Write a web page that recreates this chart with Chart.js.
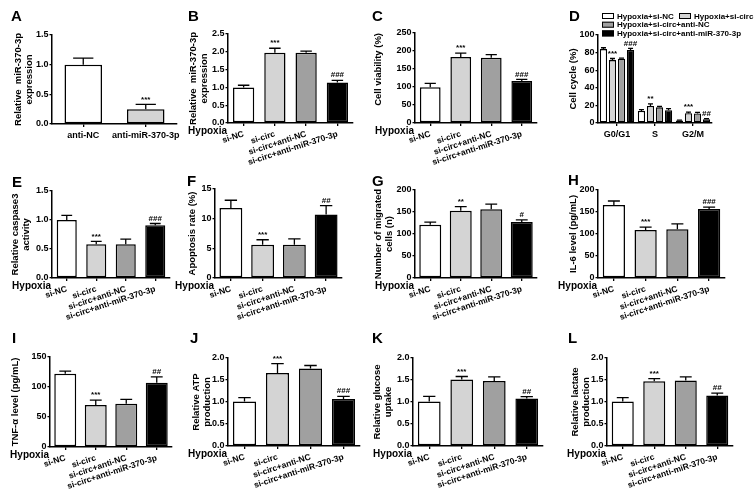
<!DOCTYPE html>
<html>
<head>
<meta charset="utf-8">
<script src="https://cdn.jsdelivr.net/npm/chart.js@4.4.1/dist/chart.umd.min.js"></script>
<style>
  body { margin: 0; background: #fff; }
  #fig { position: relative; width: 755px; height: 501px; overflow: hidden; }
  #fig canvas { position: absolute; }
  .tag { position: absolute; font: bold 15px Arial, "Liberation Sans", sans-serif; color: #000; line-height: 1; }
</style>
</head>
<body>
<div id="fig"></div>
<script>
// categories
const groups = ['si-NC', 'si-circ', 'si-circ+anti-NC', 'si-circ+anti-miR-370-3p'];
const groupsA = ['anti-NC', 'anti-miR-370-3p'];
const phases = ['G0/G1', 'S', 'G2/M'];
const cycleSeries = ['Hypoxia+si-NC', 'Hypoxia+si-circ', 'Hypoxia+si-circ+anti-NC', 'Hypoxia+si-circ+anti-miR-370-3p'];

// A - miR-370-3p
const miRA = [1.0, 0.25];
const miRAErr = [0.11, 0.08];
const miRAMarks = ['', '***'];
const ticksA = [0, 0.5, 1.0, 1.5];

// B - miR-370-3p
const miRB = [1.0, 1.97, 1.97, 1.14];
const miRBErr = [0.06, 0.13, 0.05, 0.06];
const miRBMarks = ['', '***', '', '###'];
const ticksB = [0, 0.5, 1.0, 1.5, 2.0, 2.5];

// C - cell viability
const viability = [99, 183, 181, 117];
const viabilityErr = [11, 11, 9, 4];
const viabilityMarks = ['', '***', '', '###'];
const ticksC = [0, 50, 100, 150, 200, 250];

// D - cell cycle
const cycleNC = [84, 13.6, 2.8];
const cycleNCErr = [1.5, 1.5, 0.5];
const cycleSi = [71.5, 19.3, 11];
const cycleSiErr = [1.8, 2.5, 1.3];
const cycleSiMarks = ['***', '**', '***'];
const cycleAntiNC = [73, 17.8, 10.8];
const cycleAntiNCErr = [0.8, 1, 1.2];
const cycleAntiMiR = [83, 14.5, 4.2];
const cycleAntiMiRErr = [1.8, 1.8, 0.8];
const cycleAntiMiRMarks = ['###', '', '##'];
const ticksD = [0, 20, 40, 60, 80, 100];

// E - caspase3
const caspase = [1.0, 0.58, 0.58, 0.91];
const caspaseErr = [0.08, 0.05, 0.09, 0.03];
const caspaseMarks = ['', '***', '', '###'];
const ticksE = [0, 0.5, 1.0, 1.5];

// F - apoptosis
const apoptosis = [11.8, 5.6, 5.6, 10.7];
const apoptosisErr = [1.3, 0.85, 1.0, 1.5];
const apoptosisMarks = ['', '***', '', '##'];
const ticksF = [0, 5, 10, 15];

// G - migration
const migrated = [121, 153, 156, 127];
const migratedErr = [6, 9, 12, 5];
const migratedMarks = ['', '**', '', '#'];
const ticksG = [0, 50, 100, 150, 200];

// H - IL-6
const il6 = [166, 109, 111, 157];
const il6Err = [9, 6.5, 12, 4];
const il6Marks = ['', '***', '', '###'];
const ticksH = [0, 50, 100, 150, 200];

// I - TNF-a
const tnf = [122, 70, 72, 107];
const tnfErr = [4.5, 8, 7.5, 10];
const tnfMarks = ['', '***', '', '##'];
const ticksI = [0, 50, 100, 150];

// J - ATP
const atp = [1.01, 1.66, 1.76, 1.07];
const atpErr = [0.09, 0.21, 0.07, 0.06];
const atpMarks = ['', '***', '', '###'];
const ticksJ = [0, 0.5, 1.0, 1.5, 2.0];

// K - glucose
const glucose = [1.01, 1.51, 1.48, 1.08];
const glucoseErr = [0.12, 0.07, 0.09, 0.04];
const glucoseMarks = ['', '***', '', '##'];
const ticksK = [0, 0.5, 1.0, 1.5, 2.0];

// L - lactate
const lactate = [1.01, 1.47, 1.49, 1.15];
const lactateErr = [0.09, 0.06, 0.08, 0.05];
const lactateMarks = ['', '***', '', '##'];
const ticksL = [0, 0.5, 1.0, 1.5, 2.0];

const FONT = 'Arial, "Liberation Sans", sans-serif';
const barColors = ['#ffffff', '#d4d4d4', '#a0a0a0', '#000000'];
Chart.defaults.font.family = FONT;
Chart.defaults.color = '#000';

// error bars + significance marks, placed from the bar elements and the y scale
const errorBars = {
  id: 'errorBars',
  afterDatasetsDraw(chart) {
    const ctx = chart.ctx;
    const y = chart.scales.y;
    chart.data.datasets.forEach((ds, i) => {
      chart.getDatasetMeta(i).data.forEach((bar, j) => {
        const top = y.getPixelForValue(ds.data[j] + ds.errors[j]);
        const half = Math.max(bar.width * 0.27, 2.5);
        ctx.save();
        ctx.strokeStyle = '#000';
        ctx.lineWidth = 1.3;
        ctx.beginPath();
        ctx.moveTo(bar.x, bar.y);
        ctx.lineTo(bar.x, top);
        ctx.moveTo(bar.x - half, top);
        ctx.lineTo(bar.x + half, top);
        ctx.stroke();
        const m = ds.marks ? ds.marks[j] : '';
        if (m) {
          ctx.fillStyle = '#000';
          ctx.font = 'bold 8px ' + FONT;
          ctx.textAlign = 'center';
          ctx.textBaseline = 'bottom';
          ctx.fillText(m, bar.x, top - 1);
        }
        ctx.restore();
      });
    });
  }
};

// "Hypoxia" row label and the cell cycle legend
const extras = {
  id: 'extras',
  afterDraw(chart, args, opts) {
    const {ctx, chartArea} = chart;
    ctx.save();
    ctx.fillStyle = '#000';
    if (opts.hypoxia) {
      ctx.font = 'bold 10px ' + FONT;
      ctx.textAlign = 'right';
      ctx.textBaseline = 'middle';
      ctx.fillText('Hypoxia', chartArea.left - 1, chartArea.bottom + 8);
    }
    if (opts.legend) {
      const slots = [[0, 0], [1, 0], [0, 1], [0, 2]];
      ctx.font = 'bold 8px ' + FONT;
      ctx.textAlign = 'left';
      ctx.textBaseline = 'middle';
      chart.data.datasets.forEach((ds, i) => {
        const x = chartArea.left + 4 + slots[i][0] * 77;
        const yc = chartArea.top - 19 + slots[i][1] * 8.7;
        ctx.fillStyle = ds.backgroundColor;
        ctx.fillRect(x, yc - 3, 12, 6);
        ctx.strokeStyle = '#000';
        ctx.lineWidth = 1;
        ctx.strokeRect(x + 0.5, yc - 2.5, 11, 5);
        ctx.fillStyle = '#000';
        ctx.fillText(ds.label, x + 15, yc + 0.5);
      });
    }
    ctx.restore();
  }
};

const fig = document.getElementById('fig');

function panel(p) {
  const [bx, by, bw, bh] = p.box;
  const [ax, top, bottom, right] = p.area;
  const c = document.createElement('canvas');
  c.width = bw; c.height = bh;
  c.style.left = bx + 'px'; c.style.top = by + 'px';
  fig.appendChild(c);
  const tag = document.createElement('div');
  tag.className = 'tag';
  tag.textContent = p.tag;
  tag.style.left = p.tagPos[0] + 'px'; tag.style.top = p.tagPos[1] + 'px';
  fig.appendChild(tag);

  const scaleLeft = p.titleX - 5.5;
  const t = p.yTicks;
  const rot = p.rotate ? 18 : 0;
  new Chart(c, {
    type: 'bar',
    data: { labels: p.labels, datasets: p.datasets },
    options: {
      responsive: false, animation: false, devicePixelRatio: 1,
      layout: { padding: { left: scaleLeft - bx, top: top - by, right: bx + bw - right, bottom: 0 } },
      plugins: {
        legend: { display: false }, tooltip: { enabled: false },
        extras: { hypoxia: p.rotate, legend: !!p.legend }
      },
      datasets: { bar: { categoryPercentage: p.catPct, barPercentage: p.barPct } },
      scales: {
        x: {
          border: { display: true, color: '#000', width: 1.5 },
          grid: { display: true, drawOnChartArea: false, offset: false, tickLength: 3, color: '#000', lineWidth: 1.3 },
          ticks: { autoSkip: false, minRotation: rot, maxRotation: rot, padding: 3,
                   font: { size: p.rotate ? 8.5 : 9, weight: 'bold' } },
          afterFit: s => { s.height = by + bh - bottom; }
        },
        y: {
          min: t[0], max: t[t.length - 1],
          border: { display: true, color: '#000', width: 1.5 },
          grid: { display: true, drawOnChartArea: false, tickLength: 2.5, color: '#000', lineWidth: 1.3 },
          ticks: { stepSize: t[1] - t[0], padding: 1, font: { size: 9, weight: 'bold' },
                   callback: v => v.toFixed(p.dec) },
          title: { display: true, text: p.yTitle, align: p.titleAlign || 'center', padding: 0,
                   font: { size: 9.5, weight: 'bold', lineHeight: 1.15 } },
          afterFit: s => { s.width = ax - scaleLeft; }
        }
      }
    },
    plugins: [errorBars, extras]
  });
}

function single(values, errors, marks) {
  return [{ data: values, errors: errors, marks: marks, backgroundColor: barColors,
            borderColor: '#000', borderWidth: 1.5, borderSkipped: false }];
}

panel({ tag: 'A', tagPos: [11, 8], box: [0, 0, 185, 165], area: [52, 35, 124, 177], titleX: 18,
  yTitle: ['Relative  miR-370-3p', 'expression'], labels: groupsA, yTicks: ticksA, dec: 1,
  rotate: false, catPct: 1, barPct: 0.6, datasets: single(miRA, miRAErr, miRAMarks) });

panel({ tag: 'B', tagPos: [188, 8], box: [175, 0, 195, 165], area: [228, 34, 123, 353], titleX: 193,
  yTitle: ['Relative  miR-370-3p', 'expression'], labels: groups, yTicks: ticksB, dec: 1,
  rotate: true, catPct: 1, barPct: 0.68, datasets: single(miRB, miRBErr, miRBMarks) });

panel({ tag: 'C', tagPos: [372, 8], box: [360, 0, 195, 165], area: [415, 33, 123, 537], titleX: 378,
  titleAlign: 'end', yTitle: 'Cell viability (%)', labels: groups, yTicks: ticksC, dec: 0,
  rotate: true, catPct: 1, barPct: 0.68, datasets: single(viability, viabilityErr, viabilityMarks) });

panel({ tag: 'D', tagPos: [569, 8], box: [545, 0, 210, 165], area: [598, 35, 123, 712], titleX: 573,
  yTitle: 'Cell cycle (%)', labels: phases, yTicks: ticksD, dec: 0, legend: true,
  rotate: false, catPct: 0.95, barPct: 0.8,
  datasets: [
    { label: cycleSeries[0], data: cycleNC, errors: cycleNCErr, backgroundColor: barColors[0] },
    { label: cycleSeries[1], data: cycleSi, errors: cycleSiErr, marks: cycleSiMarks, backgroundColor: barColors[1] },
    { label: cycleSeries[2], data: cycleAntiNC, errors: cycleAntiNCErr, backgroundColor: barColors[2] },
    { label: cycleSeries[3], data: cycleAntiMiR, errors: cycleAntiMiRErr, marks: cycleAntiMiRMarks, backgroundColor: barColors[3] }
  ].map(d => Object.assign(d, { borderColor: '#000', borderWidth: 1.3, borderSkipped: false })) });

panel({ tag: 'E', tagPos: [12, 174], box: [0, 165, 185, 167], area: [52, 191, 278, 170], titleX: 15,
  yTitle: ['Relative caspase3', 'activity'], labels: groups, yTicks: ticksE, dec: 1,
  rotate: true, catPct: 1, barPct: 0.68, datasets: single(caspase, caspaseErr, caspaseMarks) });

panel({ tag: 'F', tagPos: [187, 173], box: [175, 165, 195, 167], area: [215, 189, 278, 342], titleX: 192,
  yTitle: 'Apoptosis rate (%)', labels: groups, yTicks: ticksF, dec: 0,
  rotate: true, catPct: 1, barPct: 0.72, datasets: single(apoptosis, apoptosisErr, apoptosisMarks) });

panel({ tag: 'G', tagPos: [372, 173], box: [360, 165, 195, 167], area: [415, 190, 278, 537], titleX: 378,
  yTitle: ['Number of migrated', 'cells (n)'], labels: groups, yTicks: ticksG, dec: 0,
  rotate: true, catPct: 1, barPct: 0.72, datasets: single(migrated, migratedErr, migratedMarks) });

panel({ tag: 'H', tagPos: [568, 172], box: [545, 165, 210, 167], area: [598, 190, 278, 725], titleX: 573,
  yTitle: 'IL-6 level (pg/mL)', labels: groups, yTicks: ticksH, dec: 0,
  rotate: true, catPct: 1, barPct: 0.7, datasets: single(il6, il6Err, il6Marks) });

panel({ tag: 'I', tagPos: [12, 330], box: [0, 332, 185, 169], area: [50, 357, 447, 172], titleX: 15,
  yTitle: 'TNF-α level (pg/mL)', labels: groups, yTicks: ticksI, dec: 0,
  rotate: true, catPct: 1, barPct: 0.72, datasets: single(tnf, tnfErr, tnfMarks) });

panel({ tag: 'J', tagPos: [190, 330], box: [175, 332, 195, 169], area: [228, 358, 446, 360], titleX: 196,
  yTitle: ['Relative ATP', 'production'], labels: groups, yTicks: ticksJ, dec: 1,
  rotate: true, catPct: 1, barPct: 0.7, datasets: single(atp, atpErr, atpMarks) });

panel({ tag: 'K', tagPos: [372, 330], box: [360, 332, 195, 169], area: [413, 358, 446, 543], titleX: 377,
  yTitle: ['Relative glucose', 'uptake'], labels: groups, yTicks: ticksK, dec: 1,
  rotate: true, catPct: 1, barPct: 0.7, datasets: single(glucose, glucoseErr, glucoseMarks) });

panel({ tag: 'L', tagPos: [568, 330], box: [545, 332, 210, 169], area: [607, 358, 446, 733], titleX: 575,
  yTitle: ['Relative lactate', 'production'], labels: groups, yTicks: ticksL, dec: 1,
  rotate: true, catPct: 1, barPct: 0.7, datasets: single(lactate, lactateErr, lactateMarks) });
</script>
</body>
</html>
